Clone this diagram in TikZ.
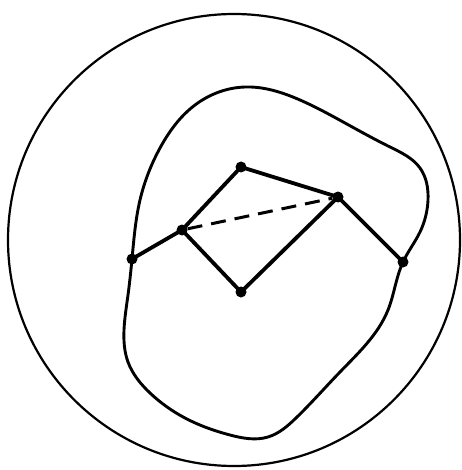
\documentclass[tikz,border=0pt]{standalone}
\usetikzlibrary{hobby}
\begin{document}
\begin{tikzpicture}[x=1pt,y=-1pt,
  dot/.style={circle,fill=black,draw=none,inner sep=0pt,minimum size=11pt},
  edge/.style={line width=3.8pt,line join=round},
  dashedge/.style={line width=3pt,dash pattern=on 15pt off 9pt},
  outer/.style={line width=2.2pt},
  blob/.style={line width=2.9pt}]
\useasboundingbox (0,0) rectangle (461,470);
\draw[outer] (234,240) circle[radius=226];
\draw[blob,use Hobby shortcut,closed=true]
  (132,259) .. (140,200) .. (160,148) .. (195,105) .. (245,87)
  .. (300,100) .. (345,123) .. (390,147) .. (420,168) .. (428,200) .. (420,232)
  .. (403,262) .. (388,310) .. (340,372) .. (296,418) .. (268,437)
  .. (230,435) .. (185,418) .. (150,393) .. (128,362) .. (124,330) .. (128,295);
\node[dot] (A) at (132,259) {};
\node[dot] (B) at (182,230) {};
\node[dot] (C) at (241,167) {};
\node[dot] (D) at (338,197) {};
\node[dot] (E) at (241,292) {};
\node[dot] (F) at (403,262) {};
\draw[edge] (A.center) -- (B.center) -- (C.center) -- (D.center) -- (F.center);
\draw[edge] (B.center) -- (E.center) -- (D.center);
\draw[dashedge] (B) -- (D);
\end{tikzpicture}
\end{document}
